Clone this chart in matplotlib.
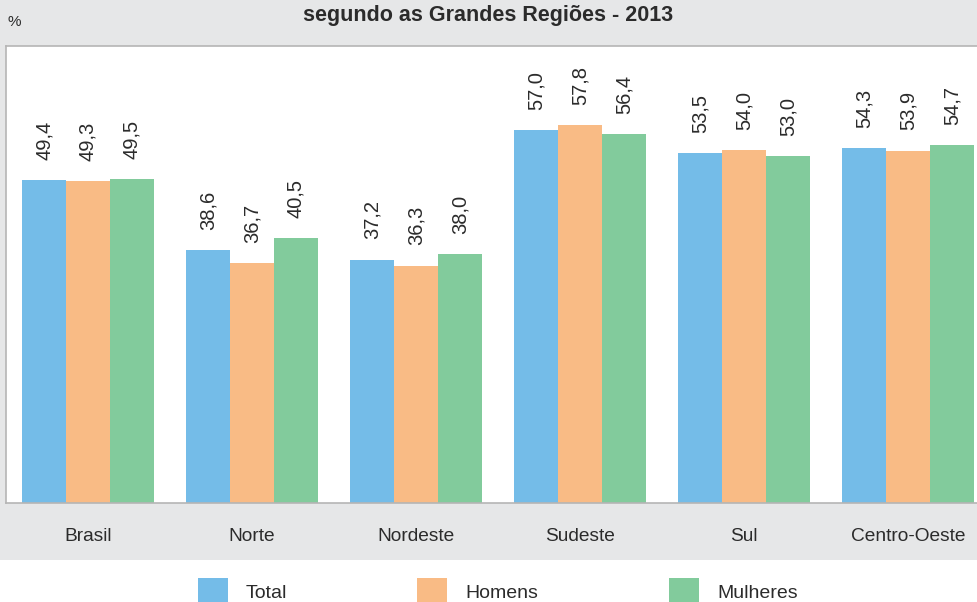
import numpy as np
import matplotlib.pyplot as plt
from matplotlib.patches import Rectangle

plt.rcParams['font.family'] = ['Liberation Sans', 'DejaVu Sans']

categories = ['Brasil', 'Norte', 'Nordeste', 'Sudeste', 'Sul', 'Centro-Oeste']
series_names = ['Total', 'Homens', 'Mulheres']
total = [49.4, 38.6, 37.2, 57.0, 53.5, 54.3]
homens = [49.3, 36.7, 36.3, 57.8, 54.0, 53.9]
mulheres = [49.5, 40.5, 38.0, 56.4, 53.0, 54.7]

colors = ['#74bce8', '#f9bb85', '#82cb9c']
text_col = '#2b2b2b'
W, H = 977, 602

fig = plt.figure(figsize=(W / 100, H / 100), dpi=100)
fig.patch.set_facecolor('white')
# grey band behind the chart
fig.patches.append(Rectangle((0, (H - 560) / H), 1, 560 / H, transform=fig.transFigure,
                             facecolor='#e6e7e8', edgecolor='none', zorder=-5))

ax = fig.add_axes([6 / W, (H - 502.5) / H, 984 / W, 457 / H])
ax.set_facecolor('white')
for s in ax.spines.values():
    s.set_color('#b5b5b5')
    s.set_linewidth(1.2)

x = np.arange(len(categories))
bw = 0.268
for k, (vals, c) in enumerate(zip([total, homens, mulheres], colors)):
    bars = ax.bar(x + (k - 1) * bw, vals, width=bw, color=c, edgecolor='none', zorder=2)
    for b, v in zip(bars, vals):
        ax.annotate(f'{v:.1f}'.replace('.', ','), (b.get_x() + b.get_width() / 2, v),
                    xytext=(0, 14.5), textcoords='offset points', rotation=90,
                    ha='center', va='bottom', fontsize=14.5, color=text_col)

ax.set_xlim(-0.5, len(categories) - 0.5)
ax.set_ylim(0, 70)
ax.set_yticks([])
ax.set_xticks(x, categories)
ax.tick_params(axis='x', length=0, pad=18.5, labelsize=13.8, labelcolor=text_col)

fig.text(488 / W, 1 - 16 / H, 'segundo as Grandes Regiões - 2013', ha='center', va='center',
         fontsize=15.5, fontweight='bold', color=text_col)
fig.text(8 / W, 1 - 22 / H, '%', ha='left', va='center', fontsize=11, color=text_col)

# legend
leg_x = [198, 417, 669]
for name, c, lx in zip(series_names, colors, leg_x):
    fig.patches.append(Rectangle((lx / W, 0), 30 / W, 24 / H, transform=fig.transFigure,
                                 facecolor=c, edgecolor='none'))
    fig.text((lx + 48) / W, 1 - 593 / H, name, ha='left', va='center', fontsize=14, color=text_col)

fig.savefig('out.png', dpi=100)
